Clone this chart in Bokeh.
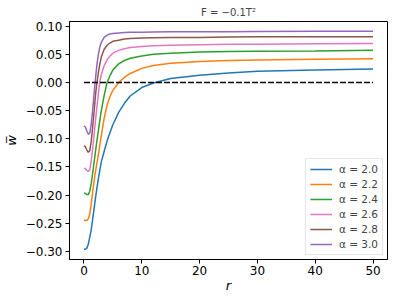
from bokeh.plotting import figure
from bokeh.models import FixedTicker, CustomJSTickFormatter, Legend, LegendItem, Range1d
from bokeh.embed import file_html
from bokeh.resources import INLINE

r = [0, 0.25, 0.5, 0.75, 1.0, 1.25, 1.5, 1.75, 2.0, 2.25, 2.5, 2.75, 3.0, 3.5,
     4, 4.5, 5, 6, 7, 8, 10, 12, 15, 20, 25, 30, 40, 50]

w_a20 = [-0.296, -0.296, -0.294, -0.287, -0.275, -0.262, -0.243, -0.224, -0.205, -0.187,
         -0.170, -0.155, -0.141, -0.122, -0.104, -0.089, -0.075, -0.053, -0.037, -0.024,
         -0.009, -0.001, 0.007, 0.013, 0.017, 0.020, 0.022, 0.024]
w_a22 = [-0.244, -0.245, -0.245, -0.242, -0.234, -0.216, -0.195, -0.176, -0.158, -0.143,
         -0.128, -0.111, -0.095, -0.063, -0.040, -0.025, -0.014, 0.000, 0.009, 0.016,
         0.025, 0.030, 0.034, 0.037, 0.039, 0.040, 0.041, 0.042]
w_a24 = [-0.196, -0.197, -0.199, -0.199, -0.193, -0.180, -0.162, -0.142, -0.122, -0.103,
         -0.085, -0.067, -0.050, -0.023, 0.000, 0.012, 0.022, 0.033, 0.039, 0.043,
         0.047, 0.050, 0.052, 0.054, 0.055, 0.0555, 0.056, 0.057]
w_a26 = [-0.152, -0.153, -0.156, -0.158, -0.155, -0.140, -0.118, -0.093, -0.067, -0.043,
         -0.020, 0.002, 0.014, 0.030, 0.040, 0.047, 0.052, 0.057, 0.060, 0.062,
         0.064, 0.065, 0.066, 0.067, 0.068, 0.068, 0.0685, 0.069]
w_a28 = [-0.112, -0.114, -0.120, -0.124, -0.121, -0.105, -0.080, -0.052, -0.022, 0.000,
         0.018, 0.033, 0.045, 0.059, 0.066, 0.070, 0.073, 0.075, 0.077, 0.078,
         0.079, 0.0795, 0.080, 0.080, 0.0805, 0.081, 0.081, 0.081]
w_a30 = [-0.077, -0.079, -0.086, -0.092, -0.090, -0.075, -0.050, -0.020, 0.008, 0.032,
         0.050, 0.063, 0.071, 0.080, 0.084, 0.086, 0.087, 0.088, 0.0885, 0.089,
         0.089, 0.0895, 0.090, 0.090, 0.090, 0.0905, 0.091, 0.091]

series = [w_a20, w_a22, w_a24, w_a26, w_a28, w_a30]
labels = ["\u03b1 = 2.0", "\u03b1 = 2.2", "\u03b1 = 2.4", "\u03b1 = 2.6", "\u03b1 = 2.8", "\u03b1 = 3.0"]
colors = ["#1f77b4", "#ff7f0e", "#2ca02c", "#e377c2", "#8c564b", "#9467bd"]

ref_r = [0, 50]
ref_w = [0, 0]

x_ticks = [0, 10, 20, 30, 40, 50]
y_ticks = [-0.30, -0.25, -0.20, -0.15, -0.10, -0.05, 0.00, 0.05, 0.10]

FONT = "DejaVu Sans"

p = figure(frame_width=318, frame_height=238, output_backend="svg", toolbar_location=None,
           x_range=Range1d(-2.5, 52.5), y_range=Range1d(-0.3142, 0.1082),
           title="F = \u22120.1T\u00b2")
p.min_border_left = 10
p.min_border_right = 1
p.min_border_top = 4
p.min_border_bottom = 0

p.title.align = "center"
p.title.text_font = FONT
p.title.text_font_size = "10px"
p.title.text_font_style = "normal"
p.title.standoff = 8

p.grid.visible = False
p.outline_line_color = "black"
p.outline_line_width = 1
p.background_fill_color = "white"
p.border_fill_color = "white"

items = []
for s, lab, c in zip(series, labels, colors):
    gl = p.line(r, s, line_color=c, line_width=1.5)
    items.append(LegendItem(label=lab, renderers=[gl]))

p.line(ref_r, ref_w, line_color="black", line_width=1.5, line_dash="6 2")

for ax in (p.xaxis, p.yaxis):
    ax.major_tick_in = 0
    ax.major_tick_out = 4
    ax.minor_tick_in = 0
    ax.minor_tick_out = 0
    ax.major_label_text_font = FONT
    ax.major_label_text_font_size = "12px"
    ax.major_label_text_color = "black"
    ax.axis_line_color = "black"
    ax.major_tick_line_color = "black"
    ax.axis_label_text_font = FONT
    ax.axis_label_text_font_style = "italic"
    ax.axis_label_text_color = "black"

p.xaxis.ticker = FixedTicker(ticks=x_ticks)
p.yaxis.ticker = FixedTicker(ticks=y_ticks)
p.yaxis.formatter = CustomJSTickFormatter(code="""
    const s = Math.abs(tick).toFixed(2);
    return (tick < -1e-9 ? '\u2212' : '') + s;
""")
p.xaxis.axis_label = "r"
p.xaxis.axis_label_text_font_size = "13px"
p.xaxis.axis_label_standoff = 0
p.yaxis.axis_label = "w\u0305"
p.yaxis.axis_label_text_font_size = "13px"
p.yaxis.axis_label_standoff = 4
p.xaxis.major_label_standoff = 2
p.yaxis.major_label_standoff = 3

legend = Legend(items=items, location="bottom_right")
legend.label_text_font = FONT
legend.label_text_font_size = "10.5px"
legend.glyph_width = 22
legend.glyph_height = 12
legend.label_height = 12
legend.label_standoff = 7
legend.spacing = 3
legend.padding = 4
legend.margin = 4
legend.border_line_color = "#cccccc"
legend.border_line_width = 1
legend.background_fill_alpha = 0.8
p.add_layout(legend)

open("out.html", "w").write(file_html(p, INLINE))
